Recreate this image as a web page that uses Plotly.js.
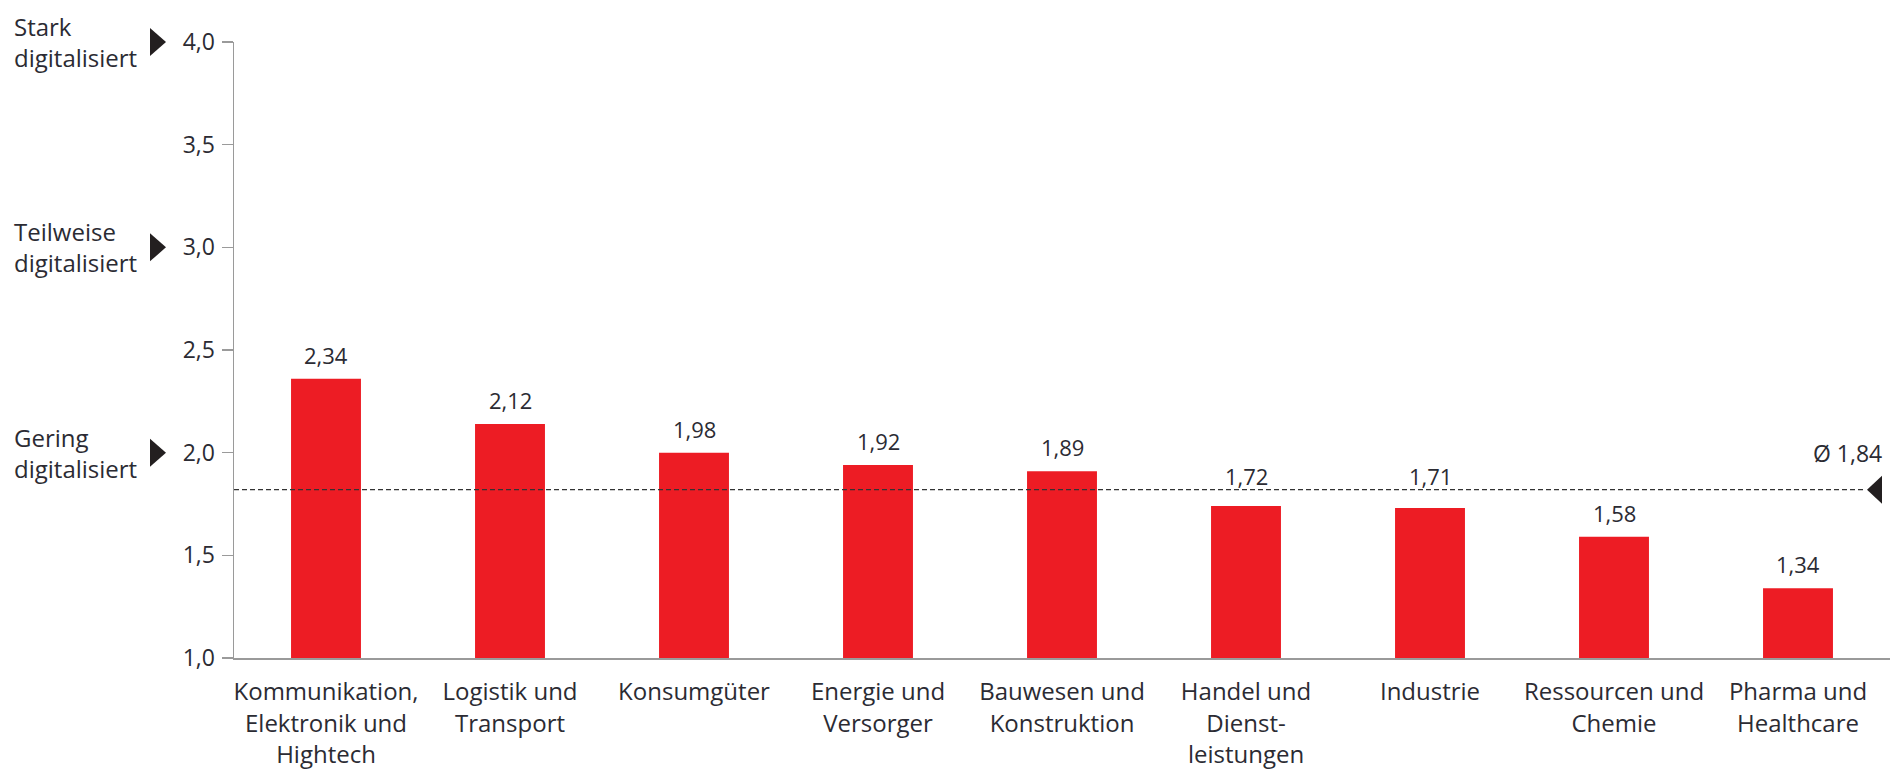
<!DOCTYPE html>
<html>
<head>
<meta charset="utf-8">
<script src="https://cdn.plot.ly/plotly-3.0.1.min.js"></script>
<style>
html, body { margin: 0; padding: 0; background: #ffffff; }
#chart { width: 1893px; height: 779px; }
</style>
</head>
<body>
<div id="chart"></div>
<script>
// Categories (tick labels)
const categories = [
  "Kommunikation,<br>Elektronik und<br>Hightech",
  "Logistik und<br>Transport",
  "Konsumgüter",
  "Energie und<br>Versorger",
  "Bauwesen und<br>Konstruktion",
  "Handel und<br>Dienst-<br>leistungen",
  "Industrie",
  "Ressourcen und<br>Chemie",
  "Pharma und<br>Healthcare"
];
// Bar heights as drawn in the picture
const barHeights = [2.36, 2.14, 2.00, 1.94, 1.91, 1.74, 1.73, 1.59, 1.34];
// Value labels printed above the bars
const valueLabels = ["2,34", "2,12", "1,98", "1,92", "1,89", "1,72", "1,71", "1,58", "1,34"];
// Average line
const avgLineValue = 1.82;
const avgLabel = "Ø 1,84";
// Level labels at the left
const levelValues = [4.0, 3.0, 2.0];
const levelLabels = ["Stark<br>digitalisiert", "Teilweise<br>digitalisiert", "Gering<br>digitalisiert"];
// Axis range
const yRange = [1, 4];

const FONT = "Open Sans, Noto Sans, sans-serif";
const TXT = "#2b2b33";
const AX = "#9a9a9a";

const W = 1893, H = 779;
const M = { l: 234, r: 3, t: 42, b: 121 };
const pxPerUnit = (H - M.t - M.b) / (yRange[1] - yRange[0]);
const toPaper = v => (v - yRange[0]) / (yRange[1] - yRange[0]);

const trace = {
  type: "bar",
  x: categories,
  y: barHeights,
  marker: { color: "#ed1c24", line: { width: 0 } },
  hoverinfo: "skip",
  cliponaxis: false
};

const annotations = [];
categories.forEach((c, i) => {
  // default: label centred 24px above the bar; lift it clear of the average line if it would cross it
  let shift = 24;
  const lineOffset = (avgLineValue - barHeights[i]) * pxPerUnit; // px from bar top up to line
  if (Math.abs(shift - lineOffset) < 14) shift = lineOffset + 14;
  annotations.push({
    x: c, y: barHeights[i], xref: "x", yref: "y",
    text: valueLabels[i], showarrow: false,
    yanchor: "middle", yshift: shift,
    font: { family: FONT, size: 22, color: TXT }
  });
});
levelValues.forEach((v, i) => {
  annotations.push({
    x: -0.134, xref: "paper", y: v, yref: "y",
    text: levelLabels[i], showarrow: false,
    xanchor: "left", yanchor: "middle", align: "left",
    font: { family: FONT, size: 24, color: TXT }
  });
});
annotations.push({
  x: 1, xref: "paper", y: avgLineValue, yref: "y",
  text: avgLabel, showarrow: false,
  xanchor: "right", yanchor: "middle", xshift: -6, yshift: 37,
  font: { family: FONT, size: 23, color: TXT }
});

const shapes = [];
shapes.push({
  type: "line", xref: "paper", yref: "y",
  x0: 0, x1: 0.9837, y0: avgLineValue, y1: avgLineValue,
  line: { color: "#333333", width: 1.4, dash: "5px,3px" }
});
levelValues.forEach(v => {
  shapes.push({
    type: "path", xref: "paper", yref: "paper",
    xsizemode: "pixel", ysizemode: "pixel",
    xanchor: 0, yanchor: toPaper(v),
    path: "M -84,-14 L -68,0 L -84,14 Z",
    fillcolor: "#231f20", line: { width: 0 }
  });
});
shapes.push({
  type: "path", xref: "paper", yref: "paper",
  xsizemode: "pixel", ysizemode: "pixel",
  xanchor: 1, yanchor: toPaper(avgLineValue),
  path: "M -8,-14 L -23,0 L -8,14 Z",
  fillcolor: "#231f20", line: { width: 0 }
});

const layout = {
  width: W, height: H,
  margin: { l: M.l, r: M.r, t: M.t, b: M.b, pad: 0 },
  paper_bgcolor: "#ffffff", plot_bgcolor: "#ffffff",
  separators: ",.",
  showlegend: false,
  bargap: 0.62,
  font: { family: FONT, color: TXT },
  xaxis: {
    type: "category",
    showline: true, linecolor: AX, linewidth: 1.5,
    ticks: "", showgrid: false, zeroline: false,
    tickfont: { family: FONT, size: 24, color: TXT },
    ticklabelstandoff: 12,
    fixedrange: true
  },
  yaxis: {
    range: yRange, dtick: 0.5, tick0: 1, tickformat: ".1f",
    showline: true, linecolor: AX, linewidth: 1.5,
    ticks: "outside", ticklen: 11, tickcolor: AX, tickwidth: 1.5,
    showgrid: false, zeroline: false,
    tickfont: { family: FONT, size: 23, color: TXT },
    ticklabelstandoff: 2,
    fixedrange: true
  },
  annotations: annotations,
  shapes: shapes
};

Plotly.newPlot("chart", [trace], layout, { displayModeBar: false, staticPlot: true });
</script>
</body>
</html>
